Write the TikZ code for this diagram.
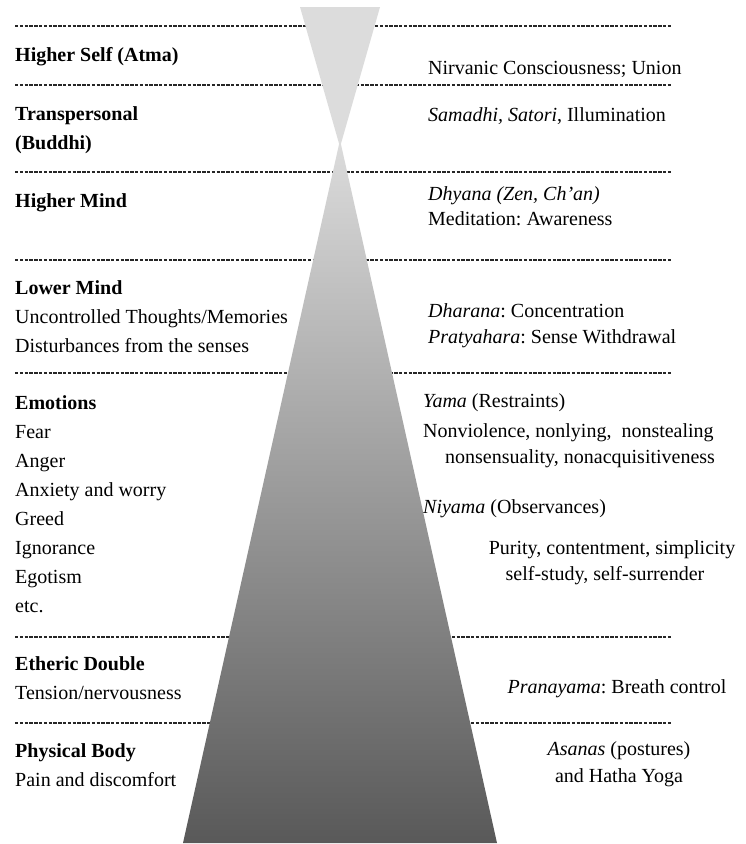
\documentclass[tikz,border=0pt]{standalone}
\usepackage{fontspec}
\setmainfont{Liberation Serif}
\frenchspacing
\definecolor{lightg}{HTML}{DCDCDC}
\definecolor{darkg}{HTML}{595959}
\begin{document}
\begin{tikzpicture}[x=1pt,y=-1pt,
  txt/.style={anchor=base west, inner sep=0pt, font=\fontsize{20}{24}\selectfont},
  hd/.style={anchor=base west, inner sep=0pt, font=\fontsize{20}{24}\selectfont\bfseries},
  ctr/.style={anchor=base, inner sep=0pt, font=\fontsize{20}{24}\selectfont},
  sep/.style={line width=1.1pt, dash pattern=on 3.4pt off 1.4pt, color=black!85}]
\useasboundingbox[fill=white] (0,0) rectangle (745,844);
% separators
\foreach \yy in {26,85,172,260,373,637,723}
  \draw[sep] (15,\yy) -- (672,\yy);
% shapes
\shade[top color=lightg, bottom color=darkg] (340,140) -- (497,843) -- (183,843) -- cycle;
\fill[lightg] (300,7) -- (380,7) -- (340,147) -- cycle;
% left column
\node[hd] (hs) at (15,61) {Higher Self (Atma)};
\node[hd] (tp) at (15,120) {Transpersonal};
\node[hd] (bu) at (15,149) {(Buddhi)};
\node[hd] (hm) at (15,207) {Higher Mind};
\node[hd] (lm) at (15,294) {Lower Mind};
\node[txt] (lm1) at (15,323) {Uncontrolled Thoughts/Memories};
\node[txt] (lm2) at (15,352) {Disturbances from the senses};
\node[hd] (em) at (15,409) {Emotions};
\node[txt] (em1) at (15,438) {Fear};
\node[txt] (em2) at (15,467) {Anger};
\node[txt] (em3) at (15,496) {Anxiety and worry};
\node[txt] (em4) at (15,525) {Greed};
\node[txt] (em5) at (15,554) {Ignorance};
\node[txt] (em6) at (15,583) {Egotism};
\node[txt] (em7) at (15,612) {etc.};
\node[hd] (ed) at (15,670) {Etheric Double};
\node[txt] (ed1) at (15,699) {Tension/nervousness};
\node[hd] (pb) at (15,757) {Physical Body};
\node[txt] (pb1) at (15,786) {Pain and discomfort};
% right column
\node[txt] (r1) at (428,74) {Nirvanic Consciousness; Union};
\node[txt] (r2) at (428,121) {\textit{Samadhi, Satori}, Illumination};
\node[txt] (r3) at (428,200) {\textit{Dhyana (Zen, Ch’an)}};
\node[txt] (r4) at (428,225) {Meditation: Awareness};
\node[txt] (r5) at (428,317) {\textit{Dharana}: Concentration};
\node[txt] (r6) at (428,343) {\textit{Pratyahara}: Sense Withdrawal};
\node[txt] (r7) at (423,407) {\textit{Yama} (Restraints)};
\node[txt] (r8) at (423,437) {Nonviolence, nonlying,\ \ nonstealing};
\node[txt] (r9) at (445,463) {nonsensuality, nonacquisitiveness};
\node[txt] (r10) at (423,513) {\textit{Niyama} (Observances)};
\node[ctr] (r11) at (612,554) {Purity, contentment, simplicity};
\node[ctr] (r12) at (605,580) {self-study, self-surrender};
\node[ctr] (r13) at (617,693) {\textit{Pranayama}: Breath control};
\node[ctr] (r14) at (619,755) {\textit{Asanas} (postures)};
\node[ctr] (r15) at (619,782) {and Hatha Yoga};
\end{tikzpicture}
\end{document}
